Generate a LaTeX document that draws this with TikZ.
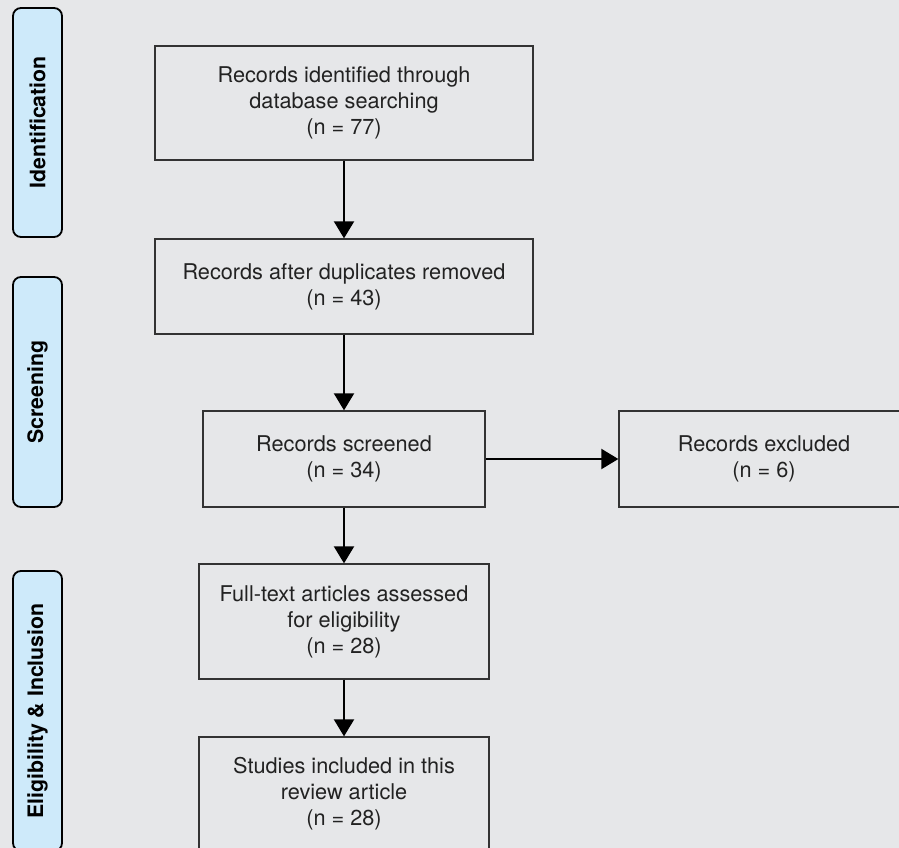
\documentclass[tikz,border=0pt]{standalone}
\usepackage{fontspec}
\setmainfont{TeX Gyre Heros}
\usetikzlibrary{arrows.meta,positioning}

\definecolor{bggray}{RGB}{230,231,233}
\definecolor{phaseblue}{RGB}{206,234,250}
\definecolor{boxline}{RGB}{51,51,51}
\definecolor{textgray}{RGB}{34,34,34}

\begin{document}
\begin{tikzpicture}[
  x=1pt, y=-1pt,
  box/.style={rectangle, draw=boxline, line width=1.3pt, inner sep=0pt, align=center, text=textgray, font=\fontsize{21.7}{26}\selectfont},
  phase/.style={rectangle, draw=black, line width=1.8pt, fill=phaseblue, rounded corners=8pt, rotate=90, minimum height=49pt, inner sep=0pt, font=\fontsize{21.3}{26}\selectfont\bfseries},
  arrow/.style={-{Triangle[length=17pt, width=20pt]}, line width=2pt, black}
]

% Background and frame
\path[use as bounding box, fill=bggray] (0,0) rectangle (899,848);
\clip (0,0) rectangle (899,848);

% Phase labels
\node[phase, minimum width=229pt] (ident) at (37.5,122.5) {Identification};
\node[phase, minimum width=230pt] (screen) at (37.5,392) {Screening};
\node[phase, minimum width=280pt] (elig) at (37.5,711) {Eligibility \& Inclusion};

% Flow boxes
\node[box, minimum width=378pt, minimum height=114pt] (identified) at (344,103) {Records identified through\\database searching\\(n = 77)};
\node[box, minimum width=378pt, minimum height=95pt] (dupl) at (344,286.5) {Records after duplicates removed\\(n = 43)};
\node[box, minimum width=282pt, minimum height=96pt] (screened) at (344,459) {Records screened\\(n = 34)};
\node[box, minimum width=290pt, minimum height=96pt] (excluded) at (764,459) {Records excluded\\(n = 6)};
\node[box, minimum width=290pt, minimum height=115pt] (fulltext) at (344,621.5) {Full-text articles assessed\\for eligibility\\(n = 28)};
\node[box, minimum width=290pt, minimum height=113pt] (included) at (344,793.5) {Studies included in this\\review article\\(n = 28)};

% Arrows
\draw[arrow] (identified) -- (dupl);
\draw[arrow] (dupl) -- (screened);
\draw[arrow] (screened) -- (excluded);
\draw[arrow] (screened) -- (fulltext);
\draw[arrow] (fulltext) -- (included);

\end{tikzpicture}
\end{document}
